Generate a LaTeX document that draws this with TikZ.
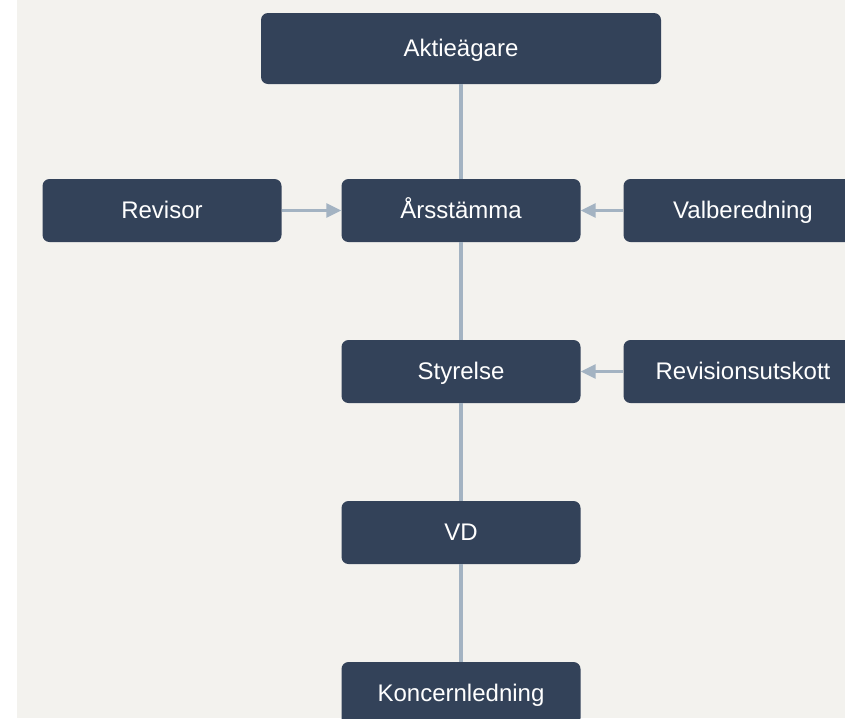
\documentclass[tikz,border=0pt]{standalone}
\usepackage{fontspec}
\setmainfont{Liberation Sans}
\usetikzlibrary{positioning, arrows.meta}
\definecolor{boxblue}{HTML}{334259}
\definecolor{linkgray}{HTML}{A3B3C2}
\definecolor{paper}{HTML}{F3F2EE}

\begin{document}
\begin{tikzpicture}[
    x=1pt, y=1pt,
    on grid,
    node distance=161pt,
    orgbox/.style={rectangle, rounded corners=7pt, fill=boxblue, text=white,
        minimum width=239pt, minimum height=63pt, inner sep=0pt,
        text height=18pt, text depth=3pt,
        font=\fontsize{24}{28}\selectfont},
    link/.style={draw=linkgray, line width=3.5pt},
    feed/.style={link, line width=3pt, -{Triangle[length=15pt, width=14pt]}}
]
    \useasboundingbox (0,0) rectangle (845,-718);
    \fill[paper] (17,0) rectangle (845,-718);

    % Boxes
    \node[orgbox] (arsstamma) at (461,-210.5) {Årsstämma};
    \node[orgbox, minimum width=400pt, minimum height=71pt, above=162pt of arsstamma] (aktieagare) {Aktieägare};
    \node[orgbox, left=299pt of arsstamma] (revisor) {Revisor};
    \node[orgbox, right=282pt of arsstamma] (valberedning) {Valberedning};
    \node[orgbox, below=of arsstamma] (styrelse) {Styrelse};
    \node[orgbox, right=282pt of styrelse] (revisionsutskott) {Revisionsutskott};
    \node[orgbox, below=of styrelse] (vd) {VD};
    \node[orgbox, below=of vd] (koncernledning) {Koncernledning};

    % Lines
    \draw[link] (aktieagare) -- (arsstamma);
    \draw[link] (arsstamma) -- (styrelse);
    \draw[link] (styrelse) -- (vd);
    \draw[link] (vd) -- (koncernledning);
    \draw[feed] (revisor) -- (arsstamma);
    \draw[feed] (valberedning) -- (arsstamma);
    \draw[feed] (revisionsutskott) -- (styrelse);
\end{tikzpicture}
\end{document}
